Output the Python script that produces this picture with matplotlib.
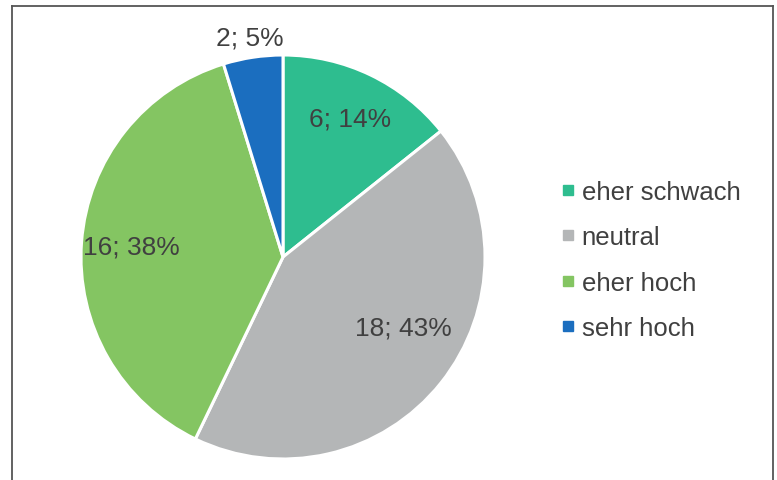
import matplotlib.pyplot as plt
from matplotlib.lines import Line2D
import numpy as np

plt.rcParams['font.family'] = ['Liberation Sans', 'DejaVu Sans']

categories = ['eher schwach', 'neutral', 'eher hoch', 'sehr hoch']
counts = [6, 18, 16, 2]
percents = [14, 43, 38, 5]
colors = ['#2EBD8F', '#B4B6B7', '#84C562', '#1B6EBF']
# label placement: radial distance and angular nudge (deg) from wedge middle
label_dist = [0.76, 0.69, 0.75, 1.10]
label_turn = [0, 8, 0.5, 0]

W, H = 777, 481
fig = plt.figure(figsize=(W / 100, H / 100), dpi=100)

# pie centre and radius in pixels
cx, cy, r = 283, 258, 202
ax = fig.add_axes([(cx - r) / W, 1 - (cy + r) / H, 2 * r / W, 2 * r / H])
wedges, _ = ax.pie(counts, colors=colors, startangle=90, counterclock=False,
                   radius=1, wedgeprops=dict(edgecolor='white', linewidth=2.2))
ax.set_xlim(-1, 1)
ax.set_ylim(-1, 1)
ax.set_aspect('equal')
ax.axis('off')

for w, n, p, d, t in zip(wedges, counts, percents, label_dist, label_turn):
    mid = np.deg2rad((w.theta1 + w.theta2) / 2 + t)
    ax.text(d * np.cos(mid), d * np.sin(mid), f'{n}; {p}%', ha='center',
            va='center', fontsize=19, color='#404040', clip_on=False)

handles = [Line2D([], [], marker='s', linestyle='none', markersize=7,
                  markerfacecolor=c, markeredgecolor=c) for c in colors]
fig.legend(handles, categories, loc='center left',
           bbox_to_anchor=(538 / W, 1 - 261 / H), frameon=False, fontsize=18.5,
           labelcolor='#404040', handlelength=0.5, handletextpad=0.3,
           labelspacing=0.82)

# outer frame (bottom edge is cut off in the original)
frame = dict(color='#555555', linewidth=1.3)
fig.add_artist(Line2D([11.5 / W, 11.5 / W], [0, 1 - 6.5 / H], **frame))
fig.add_artist(Line2D([11.5 / W, 773 / W], [1 - 6.5 / H, 1 - 6.5 / H], **frame))
fig.add_artist(Line2D([773 / W, 773 / W], [0, 1 - 6.5 / H], **frame))

fig.savefig('out.png', dpi=100)
